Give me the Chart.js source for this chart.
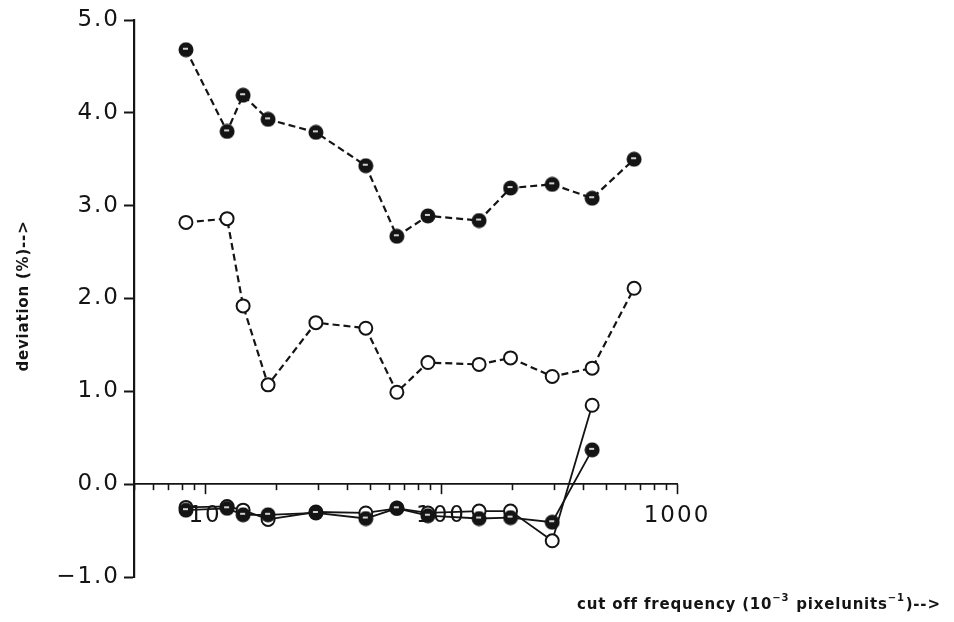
<!DOCTYPE html>
<html>
<head>
<meta charset="utf-8">
<script src="https://cdn.jsdelivr.net/npm/chart.js@4.4.1/dist/chart.umd.min.js"></script>
<style>
  html, body { margin: 0; padding: 0; background: #ffffff; }
  #wrap { width: 954px; height: 622px; }
</style>
</head>
<body>
<div id="wrap"><canvas id="chart" width="954" height="622"></canvas></div>
<script>
// Cut-off frequencies (10^-3 pixelunits^-1)
const frequencies = [8.3, 12.4, 14.5, 18.5, 29.5, 48, 65, 88, 145, 197, 296, 437, 658];

// Deviation (%) for each series
const upperFilled = [4.68, 3.80, 4.19, 3.93, 3.79, 3.43, 2.67, 2.89, 2.84, 3.19, 3.23, 3.08, 3.50];
const upperOpen   = [2.82, 2.86, 1.92, 1.07, 1.74, 1.68, 0.99, 1.31, 1.29, 1.36, 1.16, 1.25, 2.11];
const lowerOpen   = [-0.25, -0.24, -0.28, -0.38, -0.30, -0.31, -0.26, -0.31, -0.29, -0.29, -0.61, 0.85];
const lowerFilled = [-0.28, -0.26, -0.33, -0.33, -0.31, -0.37, -0.26, -0.34, -0.37, -0.36, -0.41, 0.37];

// Axis ticks
const xTickValues = [5, 6, 7, 8, 9, 10, 20, 30, 40, 50, 60, 70, 80, 90, 100,
                     200, 300, 400, 500, 600, 700, 800, 900, 1000];
const xTickLabels = { 10: '10', 100: '100', 1000: '1000' };
const yTickValues = [-1, 0, 1, 2, 3, 4, 5];

const INK = '#141414';
const TICK_FONT = { family: 'DejaVu Sans', size: 23 };
const TITLE_FONT = 'bold 15px "DejaVu Sans"';
const TITLE_SPACING = '0.8px';

function pairs(values) {
  return values.map((v, i) => ({ x: frequencies[i], y: v }));
}

// Solid marker: dark disc with a small glint
function makeFilledMarker() {
  const c = document.createElement('canvas');
  c.width = 16; c.height = 16;
  const g = c.getContext('2d');
  g.fillStyle = INK;
  g.beginPath(); g.arc(8, 8, 7.5, 0, Math.PI * 2); g.fill();
  g.strokeStyle = '#ffffff';
  g.lineWidth = 1.6;
  g.beginPath(); g.moveTo(5, 7); g.lineTo(10, 7); g.stroke();
  return c;
}
const filledMarker = makeFilledMarker();

const openStyle = {
  pointStyle: 'circle', pointRadius: 6.5, pointBorderWidth: 2,
  pointBackgroundColor: '#ffffff', pointBorderColor: INK
};
const filledStyle = { pointStyle: filledMarker, pointRadius: 7 };

const spacing = {
  id: 'spacing',
  beforeUpdate(chart) { chart.ctx.letterSpacing = '2px'; },
  beforeDraw(chart) { chart.ctx.letterSpacing = '2px'; }
};

// Downward x ticks on the zero line, long at decades
const xTickMarks = {
  id: 'xTickMarks',
  beforeDatasetsDraw(chart) {
    const { ctx, scales: { x, y } } = chart;
    const y0 = y.getPixelForValue(0);
    ctx.save();
    ctx.strokeStyle = INK;
    ctx.lineWidth = 1.6;
    x.ticks.forEach(t => {
      const px = Math.round(x.getPixelForValue(t.value)) + 0.5;
      const len = xTickLabels[t.value] ? 10 : 6;
      ctx.beginPath(); ctx.moveTo(px, y0); ctx.lineTo(px, y0 + len); ctx.stroke();
    });
    ctx.restore();
  }
};

const axisTitles = {
  id: 'axisTitles',
  afterDraw(chart) {
    const ctx = chart.ctx;
    ctx.save();
    ctx.letterSpacing = TITLE_SPACING;
    ctx.fillStyle = INK;
    // vertical title
    ctx.font = TITLE_FONT;
    ctx.textAlign = 'center';
    ctx.textBaseline = 'middle';
    ctx.translate(24, 296);
    ctx.rotate(-Math.PI / 2);
    ctx.fillText('deviation (%)-->', 0, 0);
    ctx.restore();

    // horizontal title with superscripts
    ctx.save();
    ctx.letterSpacing = TITLE_SPACING;
    ctx.fillStyle = INK;
    ctx.textAlign = 'left';
    ctx.textBaseline = 'alphabetic';
    const parts = [
      ['cut off frequency (10', false],
      ['\u22123', true],
      [' pixelunits', false],
      ['\u22121', true],
      [')-->', false]
    ];
    let px = 577;
    const base = 609;
    parts.forEach(([txt, sup]) => {
      ctx.font = sup ? 'bold 10px "DejaVu Sans"' : TITLE_FONT;
      ctx.fillText(txt, px, sup ? base - 8 : base);
      px += ctx.measureText(txt).width + (sup ? 1 : 0);
    });
    ctx.restore();
  }
};

new Chart(document.getElementById('chart'), {
  type: 'line',
  data: {
    datasets: [
      Object.assign({ data: pairs(upperFilled), borderColor: INK, borderWidth: 2.2, borderDash: [7, 4] }, filledStyle),
      Object.assign({ data: pairs(upperOpen), borderColor: INK, borderWidth: 2.2, borderDash: [7, 4] }, openStyle),
      Object.assign({ data: pairs(lowerFilled), borderColor: INK, borderWidth: 1.8 }, filledStyle),
      Object.assign({ data: pairs(lowerOpen), borderColor: INK, borderWidth: 1.8 }, openStyle)
    ]
  },
  options: {
    responsive: false,
    animation: false,
    devicePixelRatio: 1,
    layout: { padding: { left: 0, top: 20, right: 277, bottom: 45 } },
    plugins: { legend: { display: false }, tooltip: { enabled: false } },
    elements: { line: { tension: 0, fill: false } },
    scales: {
      x: {
        type: 'logarithmic',
        min: 5, max: 1000,
        position: { y: 0 },
        afterBuildTicks(scale) {
          scale.ticks = xTickValues.map(v => ({ value: v, major: !!xTickLabels[v] }));
        },
        grid: { display: false },
        border: { display: true, color: INK, width: 1.8 },
        ticks: {
          autoSkip: false, maxRotation: 0, padding: 10,
          color: INK, font: TICK_FONT,
          callback: v => xTickLabels[v] || ''
        }
      },
      y: {
        type: 'linear',
        min: -1, max: 5,
        position: 'left',
        afterBuildTicks(scale) {
          scale.ticks = yTickValues.map(v => ({ value: v }));
        },
        afterFit(scale) { scale.width = 134; },
        grid: { drawOnChartArea: false, drawTicks: true, tickLength: 10, tickWidth: 2, tickColor: INK },
        border: { display: true, color: INK, width: 2.2 },
        ticks: {
          padding: 4, color: INK, font: TICK_FONT,
          callback: v => (v < 0 ? '\u2212' : '') + Math.abs(v).toFixed(1)
        }
      }
    }
  },
  plugins: [spacing, xTickMarks, axisTitles]
});
</script>
</body>
</html>
